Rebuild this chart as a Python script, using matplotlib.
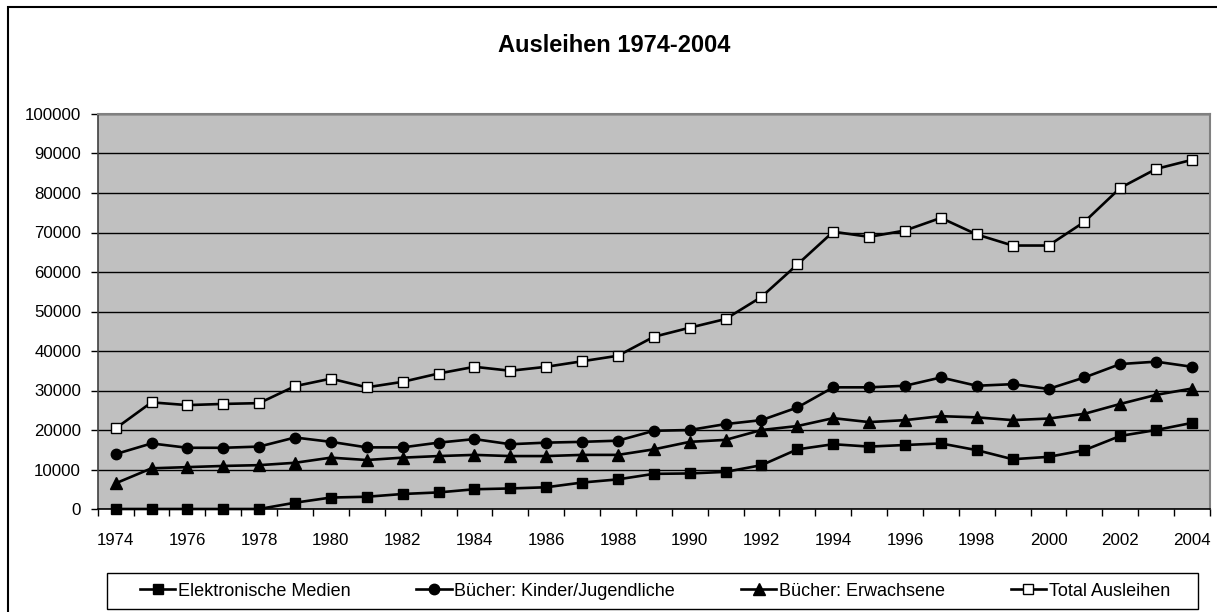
import matplotlib
matplotlib.use("Agg")
import matplotlib.pyplot as plt
from matplotlib.patches import Rectangle
from matplotlib.ticker import FixedLocator, NullFormatter

plt.rcParams['font.family'] = ['Liberation Sans', 'DejaVu Sans']

years = list(range(1974, 2005))
elektronisch = [0, 0, 0, 0, 0, 1600, 2900, 3100, 3800, 4200, 5000, 5200, 5500, 6700, 7500,
                8900, 9000, 9400, 11100, 15100, 16400, 15800, 16200, 16600, 14900, 12600,
                13200, 14900, 18500, 20000, 21800]
kinder = [13900, 16600, 15500, 15500, 15800, 18100, 17000, 15600, 15600, 16800, 17700, 16400,
          16800, 17000, 17300, 19800, 20000, 21500, 22500, 25700, 30800, 30800, 31200, 33300,
          31200, 31600, 30400, 33300, 36700, 37300, 36000]
erwachsene = [6500, 10300, 10600, 10900, 11100, 11700, 13000, 12400, 13000, 13400, 13700, 13400,
              13400, 13700, 13700, 15100, 17000, 17500, 20000, 21000, 23000, 22000, 22500, 23500,
              23200, 22500, 22900, 24100, 26600, 28900, 30500]
total = [20400, 27000, 26300, 26600, 26800, 31100, 33000, 30800, 32200, 34300, 36000, 35000,
         36000, 37400, 38800, 43600, 45900, 48100, 53700, 61900, 70200, 68900, 70500, 73700,
         69500, 66700, 66700, 72700, 81300, 86100, 88400]
series_labels = ["Elektronische Medien", "Bücher: Kinder/Jugendliche",
                 "Bücher: Erwachsene", "Total Ausleihen"]
title = "Ausleihen 1974-2004"

W, H = 1217, 612
fig = plt.figure(figsize=(W / 100, H / 100), dpi=100)
fig.patch.set_facecolor('white')

# outer chart border (right/bottom lie outside the image)
fig.patches.append(Rectangle((8 / W, -0.05), 1.1, (H - 7) / H + 0.05, transform=fig.transFigure,
                             fill=False, edgecolor='black', linewidth=1.5, zorder=0))
# legend frame
fig.patches.append(Rectangle((107 / W, (H - 609) / H), (1198 - 107) / W, (609 - 573) / H,
                             transform=fig.transFigure, fill=False, edgecolor='black',
                             linewidth=1.0, zorder=1))

ax = fig.add_axes([97.7 / W, (H - 509) / H, (1210 - 97.7) / W, (509 - 114) / H])
ax.set_facecolor('#C0C0C0')

x = list(range(len(years)))
lw = 1.9
ms = 7.2
ax.plot(x, elektronisch, color='black', lw=lw, marker='s', ms=ms, mfc='black', mec='black',
        label=series_labels[0], clip_on=False, zorder=3)
ax.plot(x, kinder, color='black', lw=lw, marker='o', ms=ms + 0.3, mfc='black', mec='black',
        label=series_labels[1], clip_on=False, zorder=3)
ax.plot(x, erwachsene, color='black', lw=lw, marker='^', ms=ms + 0.8, mfc='black', mec='black',
        label=series_labels[2], clip_on=False, zorder=3)
ax.plot(x, total, color='black', lw=lw, marker='s', ms=ms + 0.5, mfc='white', mec='black',
        mew=1.0, label=series_labels[3], clip_on=False, zorder=3)

ax.set_xlim(-0.5, len(years) - 0.5)
ax.set_ylim(0, 100000)

ax.yaxis.set_major_locator(FixedLocator(range(0, 100001, 10000)))
ax.set_yticklabels([str(v) for v in range(0, 100001, 10000)])
ax.grid(axis='y', color='black', linewidth=1.0)
ax.set_axisbelow(True)

ax.set_xticks(x[::2])
ax.set_xticklabels([str(y) for y in years[::2]])
ax.xaxis.set_minor_locator(FixedLocator([i - 0.5 for i in range(len(years) + 1)]))
ax.xaxis.set_minor_formatter(NullFormatter())
ax.tick_params(axis='x', which='major', length=0, pad=17, labelsize=12.2)
ax.tick_params(axis='x', which='minor', length=5, width=1, color='black', direction='out')
ax.tick_params(axis='y', length=5, width=1, color='black', direction='out', pad=7, labelsize=12.2)

for s in ['top', 'right']:
    ax.spines[s].set_color('#808080')
    ax.spines[s].set_linewidth(1.5)
ax.spines['left'].set_color('#404040')
ax.spines['left'].set_linewidth(1.2)
ax.spines['bottom'].set_color('black')
ax.spines['bottom'].set_linewidth(1.2)

fig.text(614 / W, 1 - 45 / H, title, ha='center', va='center', fontsize=17, fontweight='bold')

leg = fig.legend(loc='center left', ncol=4, mode='expand',
                 bbox_to_anchor=(140 / W, (H - 609) / H, (1170 - 140) / W, (609 - 573) / H),
                 frameon=False, fontsize=13,
                 handlelength=1.95, handletextpad=0.15, borderaxespad=0, borderpad=0.0,
                 columnspacing=1.0)

fig.savefig('out.png', dpi=100, facecolor='white')
